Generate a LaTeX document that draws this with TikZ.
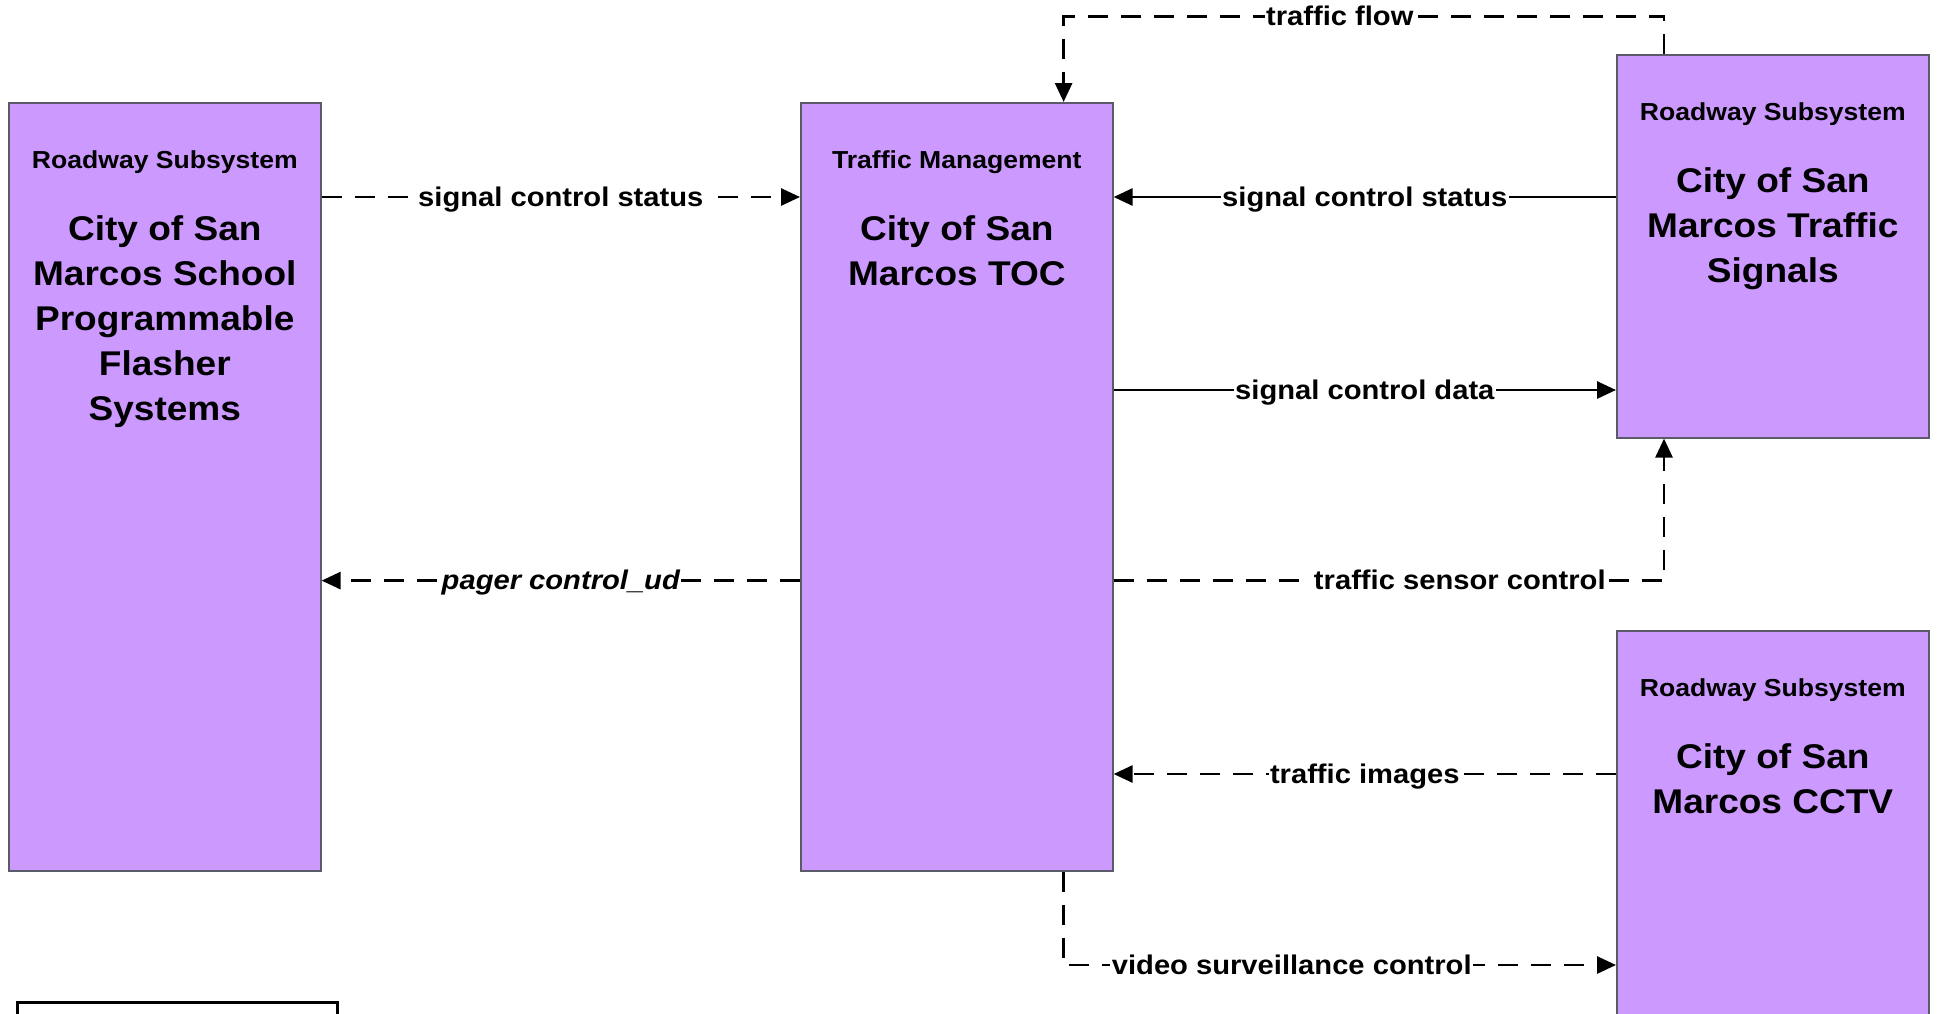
\documentclass[tikz,border=0pt]{standalone}
\usepackage{fontspec}
\setmainfont[FakeStretch=1.08]{Liberation Sans}
\usetikzlibrary{arrows.meta,calc}
\definecolor{boxfill}{RGB}{204,153,255}
\definecolor{boxline}{RGB}{90,90,105}
\begin{document}
\begin{tikzpicture}[x=1pt,y=-1pt,
  sysbox/.style={draw=boxline, fill=boxfill, line width=1.6pt, anchor=north west, inner sep=0pt, minimum width=312pt},
  hdr/.style={font=\fontsize{24.6}{30}\selectfont\bfseries, anchor=base, inner sep=0pt},
  ttl/.style={font=\fontsize{34.3}{45}\selectfont\bfseries, anchor=north, align=center, inner sep=0pt},
  conn/.style={line width=2.8pt, -{Triangle[length=19pt,width=17pt]}},
  dl/.style={conn, dash pattern=on 20pt off 13pt},
  lbl/.style={font=\fontsize{27}{32}\selectfont\bfseries, fill=white, inner sep=1.5pt, text height=23pt, text depth=4.5pt}
]
\clip (0,0) rectangle (1937,1013);
\useasboundingbox (0,0) rectangle (1937,1013);
\fill[white] (0,0) rectangle (1937,1013);

% boxes
\node[sysbox, minimum height=768pt] (flasher) at (8,102) {};
\node[sysbox, minimum height=768pt] (toc) at (800,102) {};
\node[sysbox, minimum height=383pt] (signals) at (1616,54) {};
\node[sysbox, minimum height=500pt] (cctv) at (1616,630) {};

% box texts
\node[hdr] (flasherH) at ($(flasher.north)+(0,66.5)$) {Roadway Subsystem};
\node[ttl] (flasherT) at ($(flasher.north)+(0,113)$) {City of San\\Marcos School\\Programmable\\Flasher\\Systems};
\node[hdr] (tocH) at ($(toc.north)+(0,66.5)$) {Traffic Management};
\node[ttl] (tocT) at ($(toc.north)+(0,113)$) {City of San\\Marcos TOC};
\node[hdr] (signalsH) at ($(signals.north)+(0,66.5)$) {Roadway Subsystem};
\node[ttl] (signalsT) at ($(signals.north)+(0,113)$) {City of San\\Marcos Traffic\\Signals};
\node[hdr] (cctvH) at ($(cctv.north)+(0,66.5)$) {Roadway Subsystem};
\node[ttl] (cctvT) at ($(cctv.north)+(0,113)$) {City of San\\Marcos CCTV};

% legend box (cut off)
\draw[line width=3pt] (17,1040) -- (17,1002) -- (337,1002) -- (337,1040);

% levels
\coordinate (ys) at (0,197);
\coordinate (yd) at (0,390);
\coordinate (yp) at (0,580.6);
\coordinate (yf) at (0,16.5);
\coordinate (yi) at (0,774);
\coordinate (yv) at (0,965);
\coordinate (xv) at (1063.6,0);
\coordinate (xs) at (1664,0);

% connectors
\draw[dl] (flasher.east |- ys) -- (toc.west |- ys) node[lbl, midway] {signal control status};
\draw[dl] (toc.west |- yp) -- (flasher.east |- yp) node[lbl, midway] {\itshape pager control\_ud};
\draw[conn] (signals.west |- ys) -- (toc.east |- ys) node[lbl, midway] {signal control status};
\draw[conn] (toc.east |- yd) -- (signals.west |- yd) node[lbl, midway] {signal control data};
\draw[dl] (toc.east |- yp) -- (xs |- yp) node[lbl, pos=0.629] {traffic sensor control} -- (signals.south -| xs);
\draw[dl] (signals.north -| xs) -- (xs |- yf) -- (xv |- yf) node[lbl, pos=0.54] {traffic flow} -- (toc.north -| xv);
\draw[dl] (cctv.west |- yi) -- (toc.east |- yi) node[lbl, midway] {traffic images};
\draw[dl] (toc.south -| xv) -- (xv |- yv) -- (cctv.west |- yv) node[lbl, pos=0.413] {video surveillance control};
\end{tikzpicture}
\end{document}
